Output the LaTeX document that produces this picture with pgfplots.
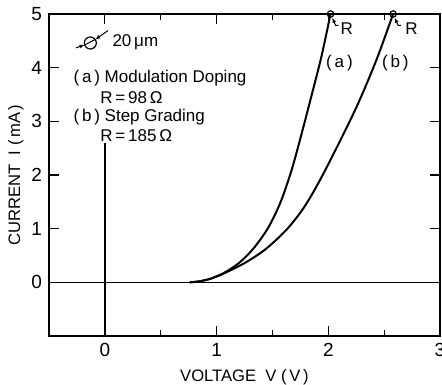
\documentclass[border=0pt]{standalone}
\usepackage{fontspec}
\setmainfont{Liberation Sans}
\usepackage{pgfplots}
\pgfplotsset{compat=1.18}
\usetikzlibrary{calc,arrows.meta}
\begin{document}
\begin{tikzpicture}
\begin{axis}[
  name=ax,
  scale only axis, width=195.5pt, height=161pt,
  xmin=-0.5, xmax=3, ymin=-1, ymax=5,
  xtick={0,1,2,3}, minor xtick={0.5,1.5,2.5},
  ytick={0,1,2,3,4,5},
  tick align=inside,
  major tick length=5pt, minor tick length=3pt,
  axis line style={line width=0.8pt},
  every tick/.style={black, line width=0.6pt},
  font=\fontsize{8.5}{10}\selectfont,
  tick label style={font=\fontsize{9.5}{10}\selectfont},
  label style={font=\fontsize{8.3}{10}\selectfont},
  /pgf/number format/assume math mode=true,
  xlabel={VOLTAGE\ \ V\ (\,V\,)},
  ylabel={CURRENT\ \ I\ (\,mA\,)},
  xlabel style={yshift=0.5pt},
  ylabel style={yshift=-3pt},
  clip=false,
]
% reference lines
\addplot[black, line width=0.7pt] coordinates {(-0.5,0) (3,0)};
\addplot[black, line width=0.7pt] coordinates {(0,-1) (0,2.6)};
% curve (a)
\addplot[black, line width=1pt, smooth] coordinates {
  (0.76,0) (0.85,0.02) (0.95,0.07) (1.07,0.18) (1.20,0.36) (1.33,0.63)
  (1.46,1.01) (1.57,1.48) (1.67,2.08) (1.76,2.76) (1.85,3.48) (1.94,4.22) (2.02,5)};
% curve (b)
\addplot[black, line width=1pt, smooth] coordinates {
  (0.76,0) (0.85,0.02) (0.95,0.07) (1.08,0.18) (1.26,0.37) (1.44,0.62)
  (1.63,0.99) (1.79,1.42) (1.96,2.04) (2.24,3.21) (2.43,4.14) (2.58,5)};
% end markers
\addplot[black, only marks, mark=o, mark size=1.6pt, mark options={fill=white, line width=0.6pt}]
  coordinates {(2.02,5) (2.58,5)};
% R leaders
\draw[black, line width=0.5pt, -{Latex[length=2.5pt,width=2pt]}] (axis cs:2.09,4.79) -- (axis cs:2.065,4.79) -- (axis cs:2.035,4.93);
\draw[black, line width=0.5pt, -{Latex[length=2.5pt,width=2pt]}] (axis cs:2.65,4.79) -- (axis cs:2.625,4.79) -- (axis cs:2.595,4.93);
\node[anchor=center] at (axis cs:2.165,4.72) {R};
\node[anchor=center] at (axis cs:2.745,4.72) {R};
\node[anchor=center] at (axis cs:2.10,4.08) {(\,a\,)};
\node[anchor=center] at (axis cs:2.60,4.08) {(\,b\,)};
% diameter symbol
\coordinate (c) at (axis cs:-0.13,4.46);
\coordinate (s1) at (axis cs:-0.258,4.37);
\coordinate (s2) at (axis cs:0.027,4.69);
\draw[black, line width=0.6pt] (c) circle[radius=3pt];
\draw[black, line width=0.5pt, -{Latex[length=2.5pt,width=2pt]}] (s1) -- ($(c)!3pt!(s1)$);
\draw[black, line width=0.5pt, -{Latex[length=2.5pt,width=2pt]}] (s2) -- ($(c)!3pt!(s2)$);
\draw[black, line width=0.5pt] ($(c)!3pt!(s1)$) -- ($(c)!3pt!(s2)$);
\node[anchor=west, inner sep=0pt] at (axis cs:0.065,4.48) {20\,μm};
% legend text
\node[anchor=west, inner sep=0pt] at (axis cs:-0.284,3.81) {(\,a\,)\ Modulation Doping};
\node[anchor=west, inner sep=0pt] at (axis cs:-0.044,3.45) {R\,=\,98\,Ω};
\node[anchor=west, inner sep=0pt] at (axis cs:-0.284,3.07) {(\,b\,)\ Step Grading};
\node[anchor=west, inner sep=0pt] at (axis cs:-0.044,2.73) {R\,=\,185\,Ω};
\end{axis}
\pgfresetboundingbox
\path ($(ax.south west)+(-24.5pt,-24pt)$) rectangle ($(ax.north east)+(1pt,7pt)$);
\end{tikzpicture}
\end{document}
